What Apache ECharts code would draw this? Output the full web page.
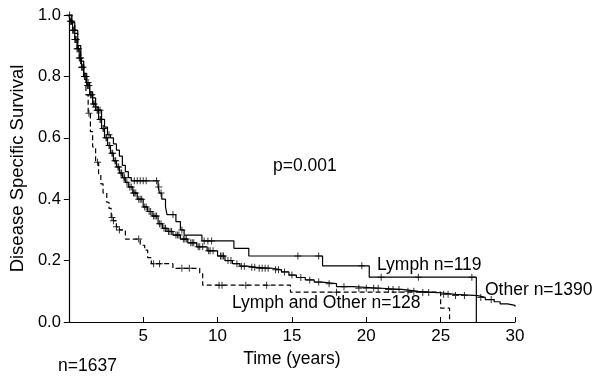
<!DOCTYPE html>
<html>
<head>
<meta charset="utf-8">
<script src="https://cdn.jsdelivr.net/npm/echarts@6/dist/echarts.min.js"></script>
<style>
  html, body { margin: 0; padding: 0; background: #fff; }
  #chart { width: 600px; height: 380px; }
</style>
</head>
<body>
<div id="chart"></div>
<script>
  // KM step points [time, survival after event]
  var lymphSteps = [[0,1],[0.2,0.975],[0.4,0.95],[0.6,0.9],[0.8,0.85],[1.0,0.81],[1.2,0.78],[1.4,0.75],[1.6,0.73],[1.8,0.7],[2.0,0.69],[2.2,0.66],[2.4,0.635],[2.6,0.61],[2.8,0.6],[3.0,0.58],[3.2,0.56],[3.4,0.54],[3.6,0.51],[3.8,0.49],[4.0,0.47],[4.2,0.46],[6.0,0.44],[6.1,0.42],[6.25,0.4],[6.5,0.375],[6.6,0.35],[7.2,0.327],[7.5,0.3],[7.75,0.283],[8.95,0.264],[11.1,0.24],[12.1,0.215],[17.06,0.183],[20.2,0.146],[27.4,0]]
  var lymphCensor = [1.3,1.8,2.1,2.7,4.4,4.6,4.8,5.0,5.2,5.9,6.05,6.2,7.0,7.6,9.1,9.35,9.6,15.4,16.8,19.7,21.0,23.5,27.1]

  var otherSteps = [[0,1],[0.1,0.98],[0.25,0.95],[0.4,0.92],[0.55,0.89],[0.7,0.86],[0.85,0.83],[1.0,0.8],[1.2,0.77],[1.4,0.74],[1.6,0.71],[1.8,0.69],[2.0,0.66],[2.2,0.63],[2.4,0.6],[2.6,0.575],[2.8,0.55],[3.0,0.525],[3.2,0.505],[3.4,0.485],[3.6,0.47],[3.8,0.455],[4.0,0.44],[4.3,0.42],[4.6,0.4],[5.0,0.375],[5.3,0.36],[5.6,0.345],[6.0,0.32],[6.3,0.305],[6.6,0.295],[7.0,0.283],[7.5,0.27],[8.0,0.258],[8.6,0.245],[9.3,0.232],[10.0,0.215],[10.5,0.2],[11.0,0.19],[11.5,0.182],[12.0,0.178],[12.6,0.175],[13.7,0.17],[14.3,0.163],[14.8,0.153],[15.3,0.145],[15.9,0.137],[16.5,0.13],[17.0,0.125],[18.0,0.115],[19.1,0.11],[21.0,0.106],[22.4,0.1],[23.5,0.096],[24.8,0.09],[26.0,0.086],[27.5,0.08],[28.0,0.073],[28.6,0.066],[29.0,0.059],[29.5,0.054],[30,0.05]]
  var otherCensor = [0.05,0.1,0.15,0.2,0.25,0.3,0.35,0.4,0.45,0.5,0.55,0.6,0.65,0.7,0.75,0.8,0.85,0.9,0.95,1.05,1.1,1.15,1.25,1.3,1.35,1.45,1.5,1.55,1.65,1.7,1.9,1.95,2.1,2.15,2.3,2.35,2.5,2.55,2.7,2.75,2.9,2.95,3.1,3.15,3.3,3.35,3.5,3.55,3.7,3.75,3.9,4.1,4.2,4.35,4.4,4.5,4.7,4.8,4.9,5.1,5.2,5.4,5.5,5.7,5.8,5.9,6.1,6.2,6.4,6.5,6.7,6.8,6.9,7.2,7.3,7.4,7.7,7.8,7.9,8.2,8.3,8.4,8.7,8.8,9.0,9.4,9.5,9.7,10.2,10.3,10.4,10.7,10.9,11.3,11.6,11.8,12.3,12.5,12.8,13.0,13.2,13.4,13.9,14.1,14.5,15.0,15.6,16.2,16.8,17.5,18.5,19.5,20.0,20.5,20.8,21.5,21.8,22.2,22.8,23.2,23.8,24.2,25.2,25.5,26.0,26.6,27.7,28.4]

  var bothSteps = [[0,1],[0.2,0.97],[0.4,0.94],[0.6,0.89],[0.8,0.84],[1.0,0.79],[1.15,0.74],[1.3,0.68],[1.45,0.62],[1.6,0.57],[1.8,0.52],[2.0,0.48],[2.15,0.45],[2.3,0.42],[2.55,0.39],[2.7,0.37],[2.85,0.34],[3.0,0.33],[3.2,0.31],[3.4,0.3],[3.8,0.27],[4.8,0.25],[5.1,0.234],[5.3,0.21],[5.55,0.19],[7.0,0.175],[8.8,0.16],[9.0,0.12],[14.9,0.097],[25.0,0.045],[25.6,0]]
  var bothCensor = [1.35,1.93,2.9,3.0,3.2,3.4,4.7,5.7,6.1,7.6,8.1,10.1,10.3,11.9,13.3,18.0]

  var xTicks = [5, 10, 15, 20, 25, 30]

  var FONT = 'Arial, "Liberation Sans", sans-serif'
  var PLUS = 'path://M3,0H4V3H7V4H4V7H3V4H0V3H3Z'

  // survival value at time t from a step list
  function survAt(steps, t) {
    var s = steps[0][1]
    for (var i = 0; i < steps.length; i++) {
      if (steps[i][0] <= t) s = steps[i][1]
    }
    return s
  }
  function censorPts(steps, times) {
    return times.map(function(t) { return [t, survAt(steps, t)] })
  }

  function curve(name, data, type) {
    return {
      name: name, type: 'line', step: 'end', data: data,
      symbol: 'none', silent: true,
      lineStyle: { color: '#000', width: 1.2, type: type || 'solid' }
    }
  }
  function marks(name, data) {
    return {
      name: name, type: 'scatter', data: data, silent: true,
      symbol: PLUS, symbolSize: 7, z: 5,
      itemStyle: { color: '#000' }
    }
  }

  function label(text, left, top) {
    return { type: 'text', left: left, top: top, style: { text: text, fontSize: 17.5, fill: '#000', fontFamily: FONT } }
  }

  var chart = echarts.init(document.getElementById('chart'))
  chart.setOption({
    animation: false,
    textStyle: { fontFamily: FONT },
    grid: { left: 59, right: 85, top: 15, bottom: 58 },
    xAxis: {
      type: 'value', min: 0, max: 30, interval: 5,
      name: 'Time (years)', nameLocation: 'middle', nameGap: 26,
      nameTextStyle: { fontSize: 17.5, color: '#000', fontFamily: FONT },
      axisLine: { lineStyle: { color: '#000', width: 1.2 } },
      axisTick: { inside: true, length: 5, lineStyle: { color: '#000' } },
      axisLabel: {
        fontSize: 17, color: '#000', margin: 6, fontFamily: FONT,
        formatter: function(v) { return xTicks.indexOf(v) >= 0 ? String(v) : '' }
      },
      splitLine: { show: false }
    },
    yAxis: {
      type: 'value', min: 0, max: 1, interval: 0.2,
      name: 'Disease Specific Survival', nameLocation: 'middle', nameGap: 32,
      nameTextStyle: { fontSize: 18.5, color: '#000', fontFamily: FONT },
      axisLine: { show: true, lineStyle: { color: '#000', width: 1.2 } },
      axisTick: { show: true, length: 5, lineStyle: { color: '#000' } },
      axisLabel: {
        fontSize: 16.5, color: '#000', margin: 8, fontFamily: FONT,
        formatter: function(v) { return v.toFixed(1) }
      },
      splitLine: { show: false }
    },
    series: [
      curve('Other', otherSteps),
      curve('Lymph', lymphSteps),
      curve('Lymph and Other', bothSteps, [5, 3]),
      marks('Other', censorPts(otherSteps, otherCensor)),
      marks('Lymph', censorPts(lymphSteps, lymphCensor)),
      marks('Lymph and Other', censorPts(bothSteps, bothCensor))
    ],
    graphic: [
      label('p=0.001', 273, 157),
      label('Lymph n=119', 377, 256),
      label('Other n=1390', 485, 281),
      label('Lymph and Other n=128', 232, 294),
      label('n=1637', 58, 357)
    ]
  })
</script>
</body>
</html>
